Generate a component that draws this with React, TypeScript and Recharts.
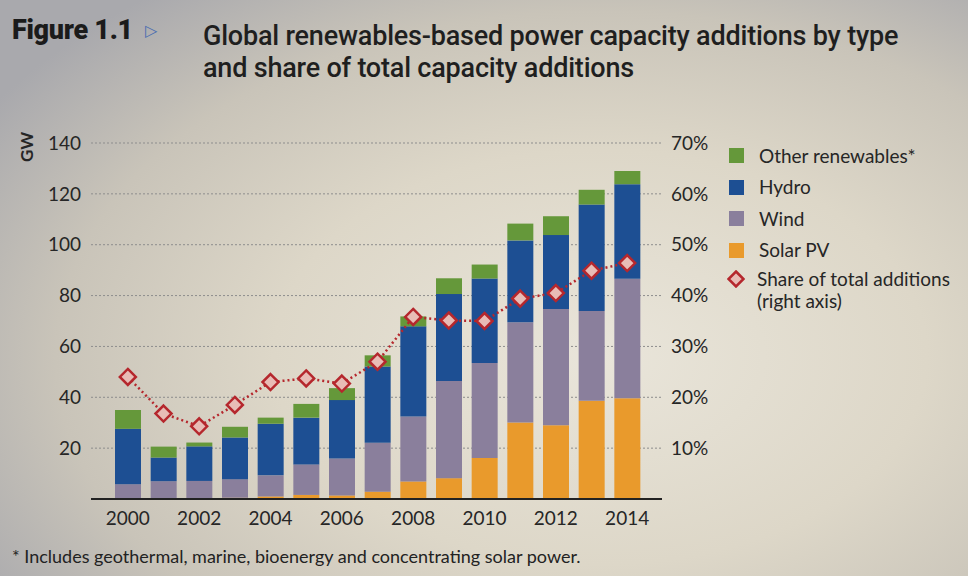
import React from "react";
import { ComposedChart, Bar, Line, XAxis, YAxis, CartesianGrid } from "recharts";

const years = ["2000", "2001", "2002", "2003", "2004", "2005", "2006", "2007", "2008", "2009", "2010", "2011", "2012", "2013", "2014"];
const solarPV = [0.1, 0.2, 0.3, 0.5, 1.0, 1.6, 1.4, 2.9, 6.9, 8.2, 16.1, 30.1, 29.0, 38.6, 39.6];
const wind = [5.7, 6.8, 6.8, 7.3, 8.3, 12.0, 14.5, 19.2, 25.5, 38.2, 37.4, 39.4, 45.7, 35.3, 47.0];
const hydro = [21.8, 9.3, 13.6, 16.4, 20.3, 18.4, 23.0, 30.0, 35.5, 34.2, 33.2, 32.2, 29.1, 41.9, 37.2];
const otherRenewables = [7.4, 4.3, 1.5, 4.2, 2.4, 5.4, 4.7, 4.4, 3.9, 6.2, 5.5, 6.6, 7.4, 5.8, 5.2];
const shareOfTotal = [24.0, 16.8, 14.3, 18.5, 23.0, 23.7, 22.7, 27.0, 35.8, 35.1, 35.0, 39.4, 40.5, 44.9, 46.4];

const gwTicks = [20, 40, 60, 80, 100, 120, 140];
const pctTicks = [10, 20, 30, 40, 50, 60, 70];

const colors = {
  solar: "#e99a2c",
  wind: "#8a7f9c",
  hydro: "#1d4f93",
  other: "#65983a",
  share: "#b5272d",
  shareFill: "#e8bcb6",
  text: "#262626",
};

const data = years.map((y, i) => ({
  year: y,
  solar: solarPV[i],
  wind: wind[i],
  hydro: hydro[i],
  other: otherRenewables[i],
  share: shareOfTotal[i],
}));

const FONT = "Lato, 'Open Sans', sans-serif";

// diamond marker for the share line
const Diamond = (props: any) => {
  const { cx, cy } = props;
  if (cx == null || cy == null) return null;
  const r = 8;
  return (
    <path
      d={`M${cx},${cy - r} L${cx + r},${cy} L${cx},${cy + r} L${cx - r},${cy} Z`}
      fill={colors.shareFill}
      stroke={colors.share}
      strokeWidth={2.5}
    />
  );
};

const legendItems = [
  { label: "Other renewables*", color: colors.other },
  { label: "Hydro", color: colors.hydro },
  { label: "Wind", color: colors.wind },
  { label: "Solar PV", color: colors.solar },
];

export default function App() {
  return (
    <div
      style={{
        position: "absolute",
        left: 0,
        top: 0,
        width: 968,
        height: 576,
        overflow: "hidden",
        fontFamily: FONT,
        background:
          "radial-gradient(ellipse 75% 80% at 62% 62%, #e9e5da 0%, #ddd7c8 45%, #c9c4b9 75%, #a9a9ad 100%)",
      }}
    >
      {/* title */}
      <div style={{ position: "absolute", left: 12, top: 14, fontFamily: "Roboto, sans-serif", fontWeight: 900, fontSize: 27, color: "#1b1b1b", letterSpacing: -0.3 }}>
        Figure 1.1 <span style={{ color: "#4a6db0", fontSize: 16, fontWeight: 400, verticalAlign: 3, marginLeft: 6 }}>▷</span>
      </div>
      <div style={{ position: "absolute", left: 203, top: 20, fontFamily: "Roboto, sans-serif", fontWeight: 500, fontSize: 27, lineHeight: "32px", color: "#1f1f1f", letterSpacing: -0.2 }}>
        Global renewables-based power capacity additions by type
        <br />
        and share of total capacity additions
      </div>

      {/* GW label */}
      <div style={{ position: "absolute", left: 15, top: 138, width: 24, height: 24, fontWeight: 700, fontSize: 17, color: colors.text, transform: "rotate(-90deg)", lineHeight: "24px", textAlign: "center" }}>
        GW
      </div>

      <div style={{ position: "absolute", left: 0, top: 0 }}>
        <ComposedChart
          width={968}
          height={576}
          data={data}
          margin={{ top: 143, left: 31, right: 246, bottom: 47 }}
          barGap={0}
        >
          <CartesianGrid vertical={false} stroke="#8d8d8d" strokeDasharray="2 2" yAxisId="gw" />
          <XAxis
            dataKey="year"
            interval={1}
            padding={{ left: 19, right: 17 }}
            axisLine={{ stroke: "#222", strokeWidth: 2 }}
            tickLine={false}
            tick={{ fill: colors.text, fontSize: 19, fontFamily: FONT }}
            tickMargin={7}
            height={30}
          />
          <YAxis
            yAxisId="gw"
            domain={[0, 140]}
            ticks={gwTicks}
            axisLine={false}
            tickLine={false}
            width={60}
            tick={{ fill: colors.text, fontSize: 19, fontFamily: FONT }}
            tickMargin={4}
          />
          <YAxis
            yAxisId="pct"
            orientation="right"
            domain={[0, 70]}
            ticks={pctTicks}
            tickFormatter={(v: number) => `${v}%`}
            axisLine={false}
            tickLine={false}
            width={60}
            tick={{ fill: colors.text, fontSize: 19, fontFamily: FONT }}
            tickMargin={3}
          />
          <Bar yAxisId="gw" dataKey="solar" stackId="a" fill={colors.solar} barSize={26} isAnimationActive={false} />
          <Bar yAxisId="gw" dataKey="wind" stackId="a" fill={colors.wind} barSize={26} isAnimationActive={false} />
          <Bar yAxisId="gw" dataKey="hydro" stackId="a" fill={colors.hydro} barSize={26} isAnimationActive={false} />
          <Bar yAxisId="gw" dataKey="other" stackId="a" fill={colors.other} barSize={26} isAnimationActive={false} />
          <Line
            yAxisId="pct"
            dataKey="share"
            stroke={colors.share}
            strokeWidth={2.5}
            strokeDasharray="2 3"
            dot={<Diamond />}
            activeDot={false}
            isAnimationActive={false}
          />
        </ComposedChart>
      </div>

      {/* legend */}
      <div style={{ position: "absolute", left: 729, top: 140, fontSize: 19, color: colors.text, lineHeight: "22px" }}>
        {legendItems.map((it) => (
          <div key={it.label} style={{ display: "flex", alignItems: "center", height: 31.5 }}>
            <span style={{ display: "inline-block", width: 15, height: 15, background: it.color, marginRight: 15 }} />
            {it.label}
          </div>
        ))}
        <div style={{ display: "flex", alignItems: "flex-start", marginTop: 2 }}>
          <svg width={18} height={18} style={{ marginRight: 12, marginLeft: -2, marginTop: 2 }}>
            <path d="M9,1.5 L16.5,9 L9,16.5 L1.5,9 Z" fill={colors.shareFill} stroke={colors.share} strokeWidth={2.5} />
          </svg>
          <div>
            Share of total additions
            <br />
            (right axis)
          </div>
        </div>
      </div>

      {/* footnote */}
      <div style={{ position: "absolute", left: 12, top: 545, fontSize: 18, color: "#222" }}>
        * Includes geothermal, marine, bioenergy and concentrating solar power.
      </div>
    </div>
  );
}
